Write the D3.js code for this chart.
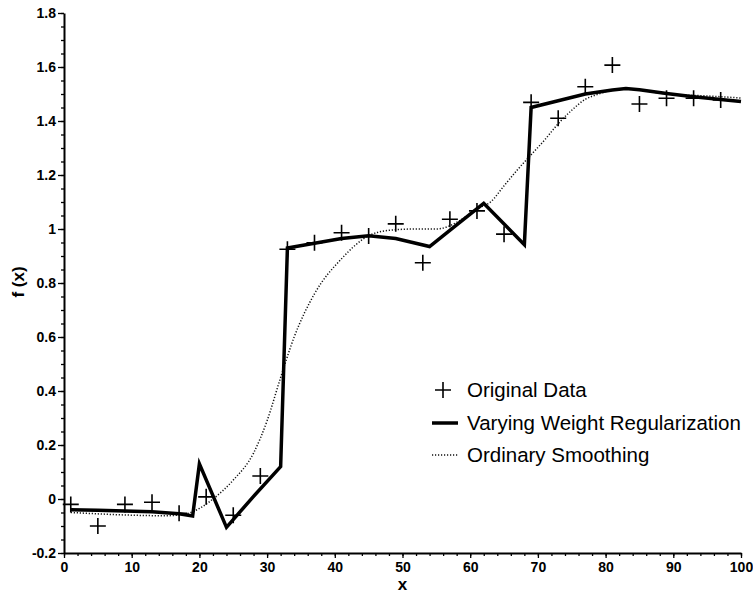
<!doctype html>
<html lang="en">
<head>
<meta charset="UTF-8">
<title>Varying weight regularization</title>
<script src="https://cdn.jsdelivr.net/npm/d3@7"></script>
<style>
    body { margin: 0; background: #fff; }
    svg { display: block; }
    .tick text { font-family: "Liberation Sans", Arial, sans-serif; font-weight: bold; font-size: 14px; fill: #000; }
    .legend text { font-family: "Liberation Sans", Arial, sans-serif; font-size: 20.5px; fill: #000; }
</style>
</head>
<body>
<script>
// original data (crosses)
var dataX = [1, 5, 9, 13, 17, 21, 25, 29, 33, 37, 41, 45, 49, 53, 57, 61, 65, 69, 73, 77, 81, 85, 89, 93, 97];
var dataY = [-0.02, -0.10, -0.02, -0.012, -0.053, 0.008, -0.06, 0.085, 0.925, 0.949, 0.986, 0.974, 1.019, 0.875,
    1.036, 1.067, 0.981, 1.469, 1.41, 1.527, 1.607, 1.463, 1.484, 1.484, 1.478];

// varying weight regularization (thick line)
var vwrX = [1, 5, 9, 13, 17, 19, 20, 24, 28, 32, 33, 37, 41, 45, 49, 54, 58, 62, 68, 69, 73, 77, 81, 83, 85, 89, 93, 97, 100];
var vwrY = [-0.04, -0.042, -0.044, -0.047, -0.055, -0.063, 0.13, -0.105, 0.01, 0.12, 0.93, 0.947, 0.965, 0.975, 0.965,
    0.935, 1.015, 1.095, 0.942, 1.45, 1.475, 1.50, 1.515, 1.52, 1.516, 1.502, 1.49, 1.48, 1.472];

// ordinary smoothing (dotted line)
var smX = [1, 5, 10, 15, 18, 20, 22, 25, 28, 30, 32, 34, 37, 41, 45, 48, 52, 55, 57, 59, 61, 63, 65, 67, 69, 71, 73,
    75, 77, 79, 81, 83, 85, 89, 93, 97, 100];
var smY = [-0.05, -0.055, -0.06, -0.062, -0.055, -0.035, 0.0, 0.07, 0.17, 0.29, 0.45, 0.6, 0.76, 0.89, 0.975, 0.995,
    1.0, 1.0, 1.012, 1.04, 1.075, 1.10, 1.16, 1.22, 1.275, 1.33, 1.39, 1.44, 1.48, 1.50, 1.515, 1.52, 1.515, 1.50,
    1.495, 1.49, 1.485];

var xTicks = [0, 10, 20, 30, 40, 50, 60, 70, 80, 90, 100];
var yTicks = [-0.2, 0, 0.2, 0.4, 0.6, 0.8, 1, 1.2, 1.4, 1.6, 1.8];
var yTickLabels = ["-0.2", "0", "0.2", "0.4", "0.6", "0.8", "1", "1.2", "1.4", "1.6", "1.8"];
var legendLabels = ["Original Data", "Varying Weight Regularization", "Ordinary Smoothing"];

var w = 753, h = 594;
var x = d3.scaleLinear().domain([0, 100]).range([64, 741]);
var y = d3.scaleLinear().domain([-0.2, 1.8]).range([553, 13]);

var svg = d3.select("body").append("svg").attr("width", w).attr("height", h);

// minor ticks
var xMinor = d3.range(0, 101, 2);
var yMinor = d3.range(-0.2, 1.801, 0.05);
svg.append("g").attr("transform", "translate(0," + y(-0.2) + ")")
    .call(d3.axisBottom(x).tickValues(xMinor).tickSize(3).tickFormat(""))
    .call(function (g) { g.select(".domain").remove(); });
svg.append("g").attr("transform", "translate(" + x(0) + ",0)")
    .call(d3.axisLeft(y).tickValues(yMinor).tickSize(3).tickFormat(""))
    .call(function (g) { g.select(".domain").remove(); });

// major axes
svg.append("g").attr("transform", "translate(0," + y(-0.2) + ")")
    .call(d3.axisBottom(x).tickValues(xTicks).tickSize(5).tickSizeOuter(0).tickPadding(4));
svg.append("g").attr("transform", "translate(" + x(0) + ",0)")
    .call(d3.axisLeft(y).tickValues(yTicks).tickSize(6).tickSizeOuter(0).tickPadding(2)
        .tickFormat(function (d, i) { return yTickLabels[i]; }));
svg.selectAll(".domain").attr("stroke-width", 2);
svg.selectAll(".tick line").attr("stroke-width", 1.3);

// axis titles
svg.append("text").attr("x", x(50)).attr("y", 590).attr("text-anchor", "middle")
    .attr("font-family", "Liberation Sans, Arial, sans-serif").attr("font-weight", "bold").attr("font-size", "17px")
    .text("x");
svg.append("text").attr("transform", "translate(24,282) rotate(-90)").attr("text-anchor", "middle")
    .attr("font-family", "Liberation Sans, Arial, sans-serif").attr("font-weight", "bold").attr("font-size", "17px")
    .text("f (x)");

// ordinary smoothing
var smLine = d3.line().x(function (d) { return x(d[0]); }).y(function (d) { return y(d[1]); }).curve(d3.curveMonotoneX);
svg.append("path").datum(d3.zip(smX, smY)).attr("d", smLine)
    .attr("fill", "none").attr("stroke", "#111").attr("stroke-width", 1.5).attr("stroke-dasharray", "1.2,1.8");

// varying weight regularization
var vwrLine = d3.line().x(function (d) { return x(d[0]); }).y(function (d) { return y(d[1]); });
svg.append("path").datum(d3.zip(vwrX, vwrY)).attr("d", vwrLine)
    .attr("fill", "none").attr("stroke", "#000").attr("stroke-width", 3.5).attr("stroke-linejoin", "miter");

// crosses
var cross = "M-8,0H8M0,-8V8";
svg.selectAll("path.pt").data(d3.zip(dataX, dataY)).enter().append("path")
    .attr("class", "pt")
    .attr("d", cross)
    .attr("transform", function (d) { return "translate(" + x(d[0]) + "," + y(d[1]) + ")"; })
    .attr("stroke", "#000").attr("stroke-width", 1.6).attr("fill", "none");

// legend
var lg = svg.append("g").attr("class", "legend");
var rows = [390, 423, 455];
lg.append("path").attr("d", cross).attr("transform", "translate(443," + rows[0] + ")")
    .attr("stroke", "#000").attr("stroke-width", 1.6);
lg.append("line").attr("x1", 432).attr("x2", 458).attr("y1", rows[1]).attr("y2", rows[1])
    .attr("stroke", "#000").attr("stroke-width", 3.5);
lg.append("line").attr("x1", 432).attr("x2", 458).attr("y1", rows[2]).attr("y2", rows[2])
    .attr("stroke", "#111").attr("stroke-width", 1.5).attr("stroke-dasharray", "1.2,1.8");
lg.selectAll("text").data(legendLabels).enter().append("text")
    .attr("x", 467).attr("y", function (d, i) { return rows[i] + 7; })
    .text(function (d) { return d; });
</script>
</body>
</html>
